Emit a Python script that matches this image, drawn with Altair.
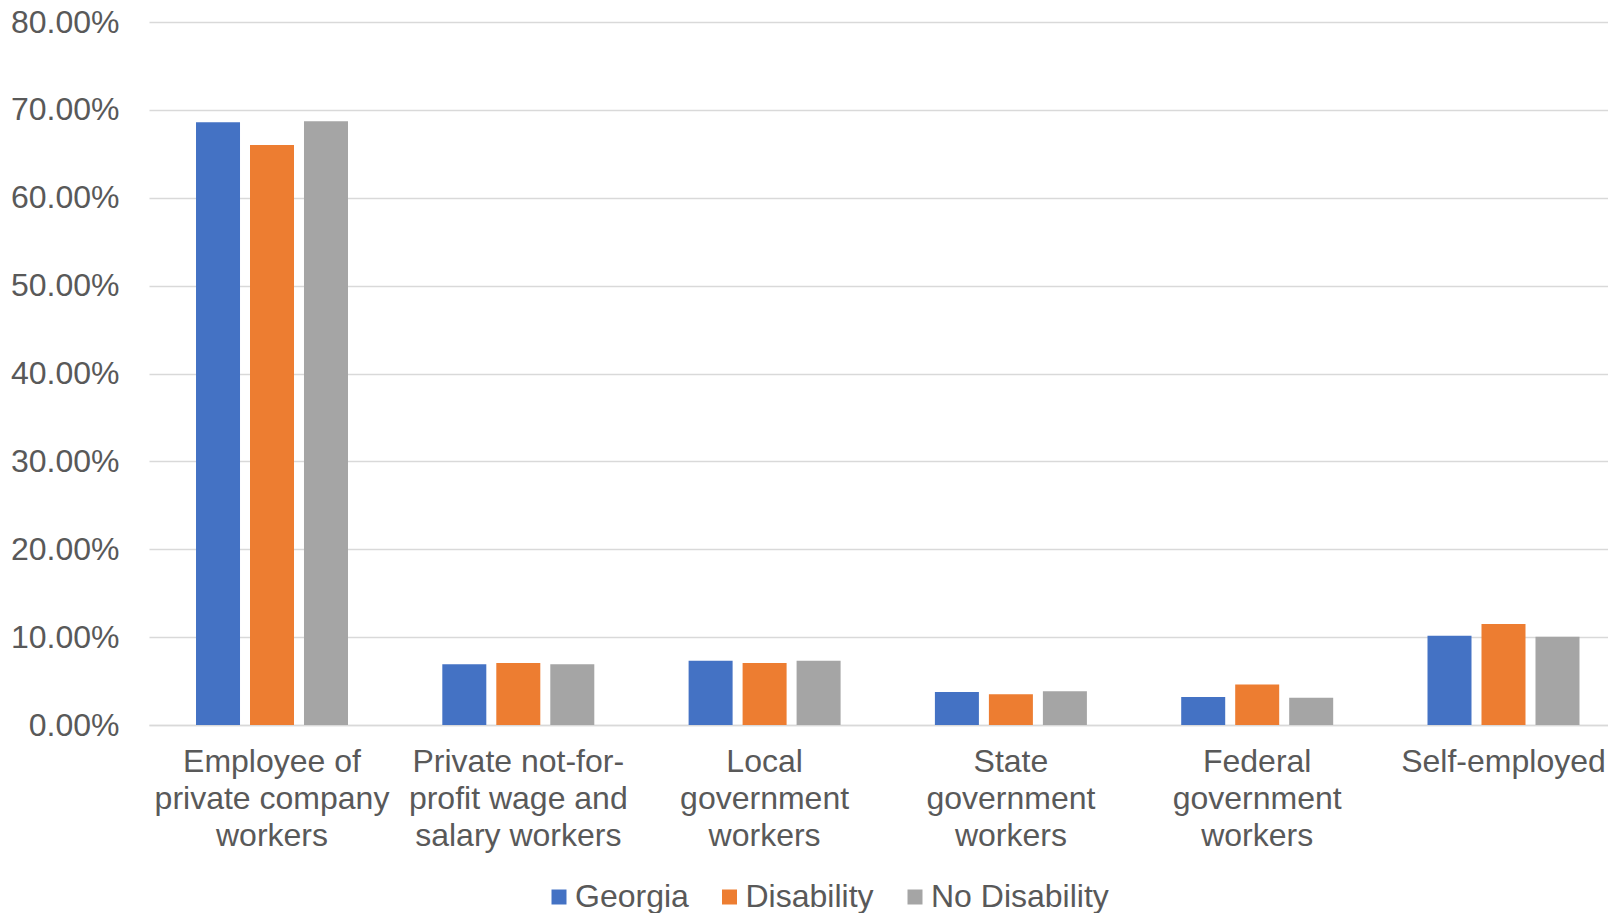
import altair as alt
import pandas as pd

categories = [
    "Employee of\nprivate company\nworkers",
    "Private not-for-\nprofit wage and\nsalary workers",
    "Local\ngovernment\nworkers",
    "State\ngovernment\nworkers",
    "Federal\ngovernment\nworkers",
    "Self-employed",
]
series = ["Georgia", "Disability", "No Disability"]
georgia = [0.686, 0.069, 0.073, 0.0375, 0.032, 0.1015]
disability = [0.660, 0.0705, 0.0705, 0.035, 0.046, 0.115]
no_disability = [0.687, 0.069, 0.073, 0.0385, 0.031, 0.1005]
colors = ["#4472C4", "#ED7D31", "#A5A5A5"]

rows = []
for s, vals in zip(series, [georgia, disability, no_disability]):
    for c, v in zip(categories, vals):
        rows.append({"category": c, "series": s, "value": v})
df = pd.DataFrame(rows)

grey_text = "#595959"

chart = (
    alt.Chart(df)
    .mark_bar()
    .encode(
        x=alt.X(
            "category:N",
            sort=categories,
            scale=alt.Scale(paddingInner=0.3829, paddingOuter=0.1533, align=0.6225),
            axis=alt.Axis(
                title=None,
                labelAngle=0,
                labelExpr="split(datum.label, '\\n')",
                labelFontSize=32,
                labelLineHeight=37,
                labelPadding=21,
                labelColor=grey_text,
                labelLimit=400,
                labelOverlap=False,
                labelBaseline="top",
                ticks=False,
                domainColor="#d9d9d9",
                domainWidth=1.5,
            ),
        ),
        xOffset=alt.XOffset(
            "series:N",
            sort=series,
            scale=alt.Scale(paddingInner=0.185, paddingOuter=0),
        ),
        y=alt.Y(
            "value:Q",
            scale=alt.Scale(domain=[0, 0.8], nice=False),
            axis=alt.Axis(
                title=None,
                values=[0, 0.1, 0.2, 0.3, 0.4, 0.5, 0.6, 0.7, 0.8],
                format=".2%",
                labelFontSize=32,
                labelColor=grey_text,
                labelPadding=30,
                ticks=False,
                domain=False,
                gridColor="#d9d9d9",
                gridWidth=1.5,
            ),
        ),
        color=alt.Color(
            "series:N",
            sort=series,
            scale=alt.Scale(domain=series, range=colors),
            legend=alt.Legend(
                title=None,
                orient="none",
                direction="horizontal",
                legendX=394,
                legendY=859,
                symbolType="square",
                symbolSize=225,
                symbolStrokeWidth=0,
                labelFontSize=32,
                labelColor=grey_text,
                labelOffset=0,
                columnPadding=24.5,
                padding=0,
                labelLimit=400,
            ),
        ),
    )
    .properties(
        width=1459,
        height=703,
        autosize=alt.AutoSizeParams(type="none"),
        padding={"left": 141, "top": 14, "right": 0, "bottom": 188},
    )
    .configure(font="Liberation Sans", background="white")
    .configure_view(stroke=None)
)

chart.save("out.html", embed_options={"renderer": "svg", "actions": False})
